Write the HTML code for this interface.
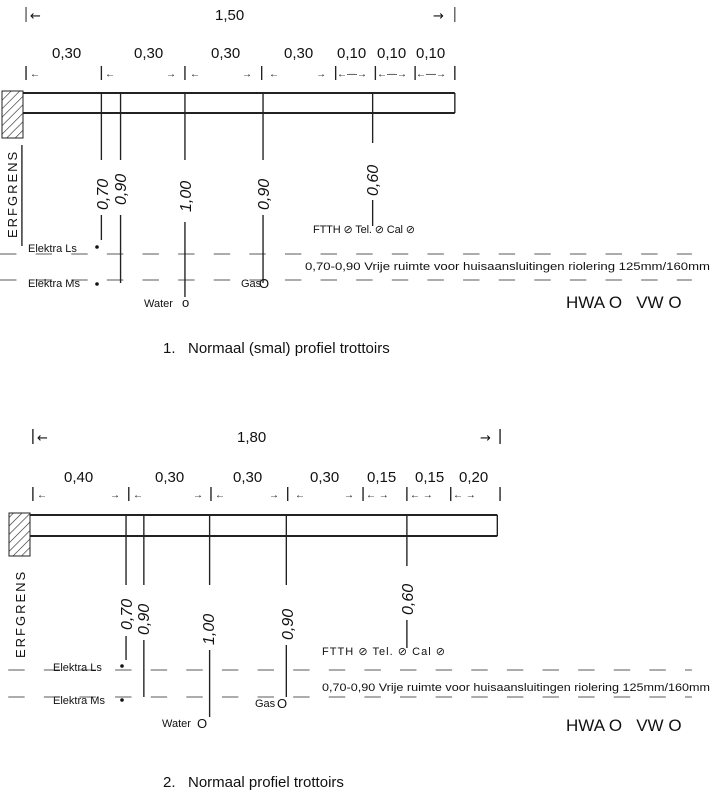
<!DOCTYPE html>
<html><head><meta charset="utf-8"><style>
html,body{margin:0;padding:0;background:#fff;}
svg{display:block;}
text{font-family:"Liberation Sans",Arial,sans-serif;fill:#111;}
.h{font-family:"DejaVu Sans",sans-serif;}
</style></head><body>
<svg width="715" height="798" viewBox="0 0 715 798" xmlns="http://www.w3.org/2000/svg">
<defs>
<pattern id="hat" width="6" height="6" patternUnits="userSpaceOnUse" patternTransform="rotate(45)">
<line x1="0" y1="0" x2="0" y2="6" stroke="#222" stroke-width="1.2"/></pattern>
</defs>
<rect x="2" y="91" width="21" height="47" fill="url(#hat)" stroke="#222"/>
<rect x="9" y="513" width="21" height="43" fill="url(#hat)" stroke="#222"/>
<g stroke="#222" fill="none" stroke-width="1" transform="scale(1.37,1)">
<g vector-effect="non-scaling-stroke">
<!-- Diagram 1 -->
<line x1="19" y1="7" x2="19" y2="22" vector-effect="non-scaling-stroke"/><line x1="332" y1="7" x2="332" y2="22" vector-effect="non-scaling-stroke"/>
<line x1="19" y1="66" x2="19" y2="80"/><line x1="74" y1="66" x2="74" y2="80"/><line x1="135" y1="66" x2="135" y2="80"/><line x1="191" y1="66" x2="191" y2="80"/><line x1="245" y1="66" x2="245" y2="80"/><line x1="274" y1="66" x2="274" y2="80"/><line x1="303" y1="66" x2="303" y2="80"/><line x1="332" y1="66" x2="332" y2="80"/>
<line x1="17" y1="93" x2="332" y2="93" stroke-width="2"/><line x1="17" y1="113" x2="332" y2="113" stroke-width="2"/><line x1="332" y1="93" x2="332" y2="113"/>
<line x1="74" y1="93" x2="74" y2="160"/><line x1="74" y1="215" x2="74" y2="240"/>
<line x1="88" y1="93" x2="88" y2="160"/><line x1="88" y1="215" x2="88" y2="283"/>
<line x1="135" y1="93" x2="135" y2="160"/><line x1="135" y1="222" x2="135" y2="297"/>
<line x1="192" y1="93" x2="192" y2="160"/><line x1="192" y1="215" x2="192" y2="283"/>
<line x1="272" y1="93" x2="272" y2="143"/><line x1="272" y1="200" x2="272" y2="226"/>
<line x1="16" y1="145" x2="16" y2="246"/>
<line x1="0" y1="254" x2="505" y2="254" stroke-dasharray="12,14" stroke-width="0.8"/>
<line x1="0" y1="280" x2="505" y2="280" stroke-dasharray="12,14" stroke-width="0.8"/>
<!-- Diagram 2 -->
<line x1="24" y1="429" x2="24" y2="444"/><line x1="365" y1="429" x2="365" y2="444"/>
<line x1="24" y1="487" x2="24" y2="501"/><line x1="94" y1="487" x2="94" y2="501"/><line x1="154" y1="487" x2="154" y2="501"/><line x1="210" y1="487" x2="210" y2="501"/><line x1="265" y1="487" x2="265" y2="501"/><line x1="297" y1="487" x2="297" y2="501"/><line x1="329" y1="487" x2="329" y2="501"/><line x1="365" y1="487" x2="365" y2="501"/>
<line x1="22" y1="515" x2="363" y2="515" stroke-width="2"/><line x1="22" y1="536" x2="363" y2="536" stroke-width="2"/><line x1="363" y1="515" x2="363" y2="536"/>
<line x1="92" y1="515" x2="92" y2="585"/><line x1="92" y1="636" x2="92" y2="660"/>
<line x1="105" y1="515" x2="105" y2="585"/><line x1="105" y1="640" x2="105" y2="697"/>
<line x1="153" y1="515" x2="153" y2="585"/><line x1="153" y1="650" x2="153" y2="717"/>
<line x1="209" y1="515" x2="209" y2="585"/><line x1="209" y1="645" x2="209" y2="697"/>
<line x1="297" y1="515" x2="297" y2="566"/><line x1="297" y1="620" x2="297" y2="648"/>
<line x1="6" y1="670" x2="505" y2="670" stroke-dasharray="12,14" stroke-width="0.8"/>
<line x1="6" y1="697" x2="505" y2="697" stroke-dasharray="12,14" stroke-width="0.8"/>
</g>
</g>
<g font-size="15">
<text x="30" y="20" class="h" font-size="13">←</text><text x="215" y="20">1,50</text><text x="433" y="20" class="h" font-size="13">→</text>
<text x="52" y="58">0,30</text><text x="134" y="58">0,30</text><text x="211" y="58">0,30</text><text x="284" y="58">0,30</text><text x="337" y="58">0,10</text><text x="377" y="58">0,10</text><text x="416" y="58">0,10</text>
<text x="37" y="442" class="h" font-size="13">←</text><text x="237" y="442">1,80</text><text x="480" y="442" class="h" font-size="13">→</text>
<text x="64" y="482">0,40</text><text x="155" y="482">0,30</text><text x="233" y="482">0,30</text><text x="310" y="482">0,30</text><text x="367" y="482">0,15</text><text x="415" y="482">0,15</text><text x="459" y="482">0,20</text>
</g>
<g font-size="10" class="h">
<text x="30" y="77">←</text><text x="105" y="77">←</text><text x="166" y="77">→</text><text x="190" y="77">←</text><text x="242" y="77">→</text><text x="269" y="77">←</text><text x="316" y="77">→</text><text x="337" y="77">←—→</text><text x="377" y="77">←—→</text><text x="416" y="77">←—→</text>
<text x="37" y="498">←</text><text x="110" y="498">→</text><text x="133" y="498">←</text><text x="193" y="498">→</text><text x="215" y="498">←</text><text x="269" y="498">→</text><text x="295" y="498">←</text><text x="344" y="498">→</text><text x="366" y="498">← →</text><text x="410" y="498">← →</text><text x="453" y="498">← →</text>
</g>
<g font-size="16" font-style="italic">
<text transform="translate(108,210) rotate(-90)">0,70</text>
<text transform="translate(126,205) rotate(-90)">0,90</text>
<text transform="translate(191,212) rotate(-90)">1,00</text>
<text transform="translate(269,210) rotate(-90)">0,90</text>
<text transform="translate(378,196) rotate(-90)">0,60</text>
<text transform="translate(132,630) rotate(-90)">0,70</text>
<text transform="translate(149,635) rotate(-90)">0,90</text>
<text transform="translate(214,645) rotate(-90)">1,00</text>
<text transform="translate(293,640) rotate(-90)">0,90</text>
<text transform="translate(413,615) rotate(-90)">0,60</text>
</g>
<g font-size="13" letter-spacing="2">
<text transform="translate(17,238) rotate(-90)">ERFGRENS</text>
<text transform="translate(25,658) rotate(-90)">ERFGRENS</text>
</g>
<g font-size="11">
<text x="28" y="252">Elektra Ls</text><circle cx="97" cy="247" r="1.8" fill="#111"/>
<text x="28" y="287">Elektra Ms</text><circle cx="97" cy="284" r="1.8" fill="#111"/>
<text x="144" y="307">Water</text><text x="182" y="307" font-size="13">o</text>
<text x="241" y="287">Gas</text><text x="259" y="288" font-size="13">O</text>
<text x="313" y="233" textLength="102">FTTH ⊘ Tel. ⊘  Cal ⊘</text>
<text x="305" y="270" textLength="405" lengthAdjust="spacingAndGlyphs">0,70-0,90 Vrije ruimte voor huisaansluitingen riolering 125mm/160mm</text>
<text x="53" y="671">Elektra Ls</text><circle cx="122" cy="666" r="1.8" fill="#111"/>
<text x="53" y="704">Elektra Ms</text><circle cx="122" cy="700" r="1.8" fill="#111"/>
<text x="162" y="727">Water</text><text x="197" y="728" font-size="13">O</text>
<text x="255" y="707">Gas</text><text x="277" y="708" font-size="13">O</text>
<text x="322" y="655" textLength="123">FTTH ⊘   Tel. ⊘   Cal ⊘</text>
<text x="322" y="691" textLength="388" lengthAdjust="spacingAndGlyphs">0,70-0,90 Vrije ruimte voor huisaansluitingen riolering 125mm/160mm</text>
</g>
<g font-size="17">
<text x="566" y="308">HWA O&#160;&#160; VW O</text>
<text x="566" y="731">HWA O&#160;&#160; VW O</text>
</g>
<g font-size="15">
<text x="163" y="353">1.&#160;&#160; Normaal (smal) profiel trottoirs</text>
<text x="163" y="787">2.&#160;&#160; Normaal profiel trottoirs</text>
</g>
</svg>
</body></html>
